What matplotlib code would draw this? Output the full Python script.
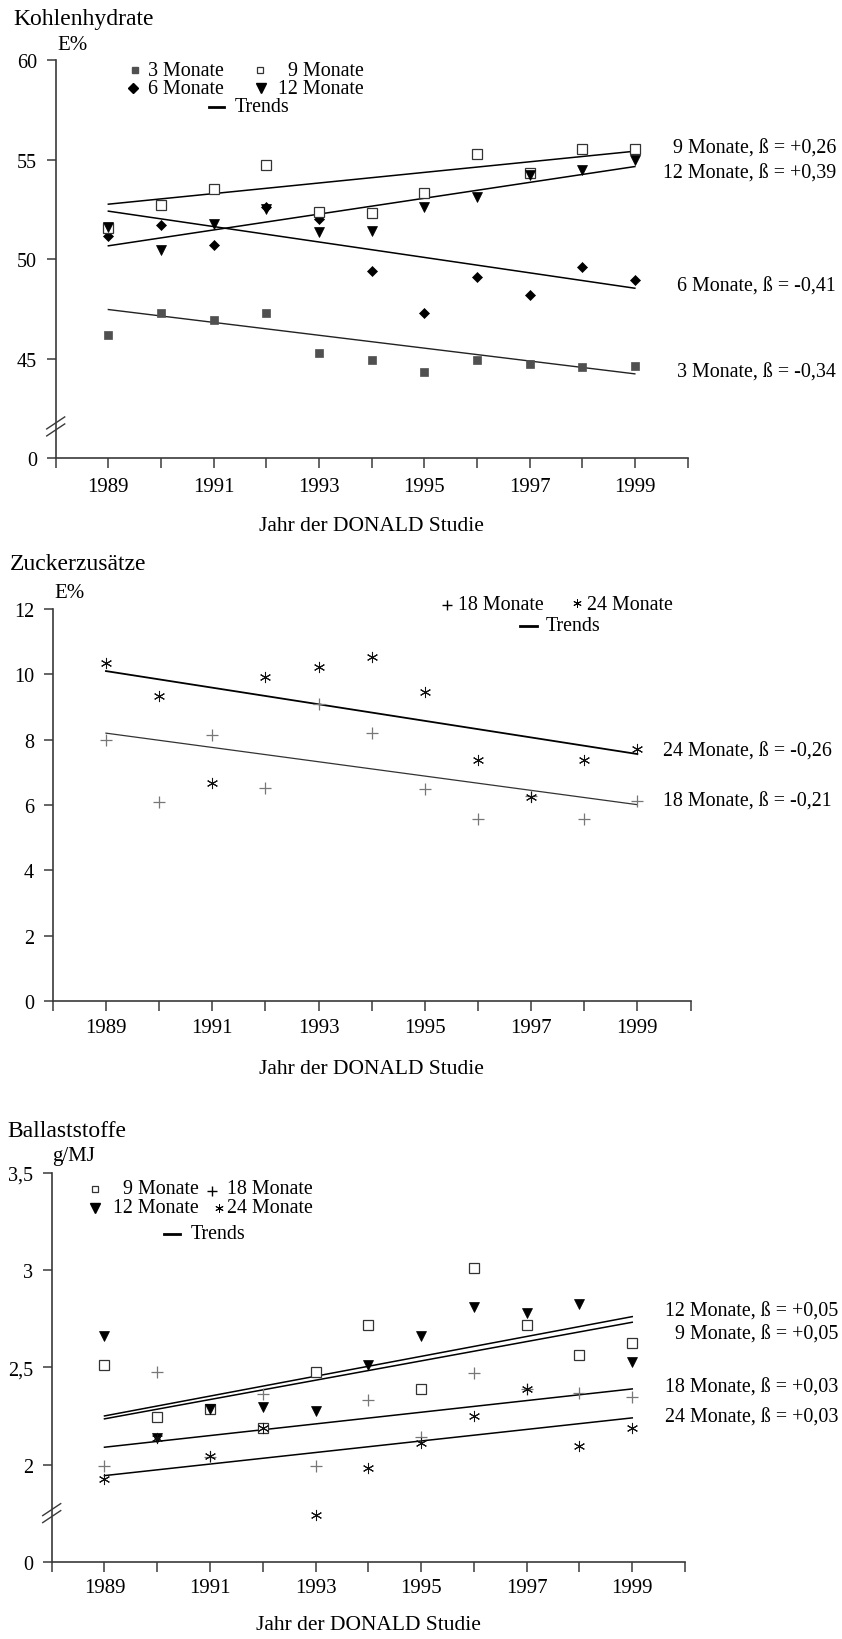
import matplotlib
matplotlib.use('Agg')
import matplotlib.pyplot as plt
from matplotlib.lines import Line2D
from matplotlib.transforms import IdentityTransform

plt.rcParams['font.family'] = ['Liberation Serif', 'DejaVu Serif']

# ---------------- data ----------------
years = [1989, 1990, 1991, 1992, 1993, 1994, 1995, 1996, 1997, 1998, 1999]
tick_years = list(range(1988, 2001))
xlabel_text = 'Jahr der DONALD Studie'

# Kohlenhydrate (E%)
carb_3m = [46.18, 47.32, 46.93, 47.32, 45.31, 44.92, 44.35, 44.92, 44.72, 44.58, 44.63]
carb_6m = [51.17, 51.71, 50.70, 52.60, 52.01, 49.40, 47.29, 49.11, 48.22, 49.63, 48.96]
carb_9m = [51.54, 52.70, 53.50, 54.74, 52.38, 52.31, 53.33, 55.29, 54.32, 55.53, 55.53]
carb_12m = [51.62, 50.47, 51.79, 52.51, 51.37, 51.42, 52.60, 53.10, 54.24, 54.48, 55.00]
carb_trend_3m = [47.47, 44.24]
carb_trend_6m = [52.41, 48.54]
carb_trend_9m = [52.76, 55.42]
carb_trend_12m = [50.67, 54.65]
carb_yticks = [40, 45, 50, 55, 60]
carb_yticklabels = ['0', '45', '50', '55', '60']
carb_labels = ['9 Monate, ß = +0,26', '12 Monate, ß = +0,39',
               '6 Monate, ß = -0,41', '3 Monate, ß = -0,34']

# Zuckerzusätze (E%)
sugar_18m = [7.98, 6.09, 8.13, 6.52, 9.10, 8.21, 6.50, 5.57, 6.28, 5.57, 6.11]
sugar_24m = [10.35, 9.35, 6.67, 9.93, 10.22, 10.52, 9.45, 7.39, 6.26, 7.37, 7.72]
sugar_trend_18m = [8.20, 6.01]
sugar_trend_24m = [10.10, 7.56]
sugar_yticks = [0, 2, 4, 6, 8, 10, 12]
sugar_yticklabels = ['0', '2', '4', '6', '8', '10', '12']
sugar_labels = ['24 Monate, ß = -0,26', '18 Monate, ß = -0,21']

# Ballaststoffe (g/MJ)
fibre_9m = [2.514, 2.246, 2.286, 2.188, 2.478, 2.72, 2.39, 3.01, 2.72, 2.564, 2.626]
fibre_12m = [2.66, 2.137, 2.286, 2.295, 2.274, 2.51, 2.66, 2.81, 2.78, 2.826, 2.526]
fibre_18m = [1.991, 2.475, 2.04, 2.363, 1.991, 2.33, 2.14, 2.47, 2.39, 2.368, 2.349]
fibre_24m = [1.926, 2.137, 2.046, 2.188, 1.74, 1.98, 2.11, 2.25, 2.39, 2.097, 2.19]
fibre_trend_9m = [2.235, 2.732]
fibre_trend_12m = [2.25, 2.761]
fibre_trend_18m = [2.089, 2.389]
fibre_trend_24m = [1.943, 2.24]
fibre_yticks = [1.5, 2.0, 2.5, 3.0, 3.5]
fibre_yticklabels = ['0', '2', '2,5', '3', '3,5']
fibre_labels = ['12 Monate, ß = +0,05', '9 Monate, ß = +0,05',
                '18 Monate, ß = +0,03', '24 Monate, ß = +0,03']

# ---------------- figure ----------------
W, H, DPI = 842, 1640, 100
fig = plt.figure(figsize=(W / DPI, H / DPI), dpi=DPI)
fig.patch.set_facecolor('white')

AX = '#3a3a3a'
TXT = 14.4


def fx(x):
    return x / W


def fy(y):
    return 1 - y / H


def make_axes(left, right, top, bottom):
    return fig.add_axes([fx(left), fy(bottom), fx(right) - fx(left), fy(top) - fy(bottom)])


def style(ax, ylim, yticks, yticklabels, xpad=4.5, labelpad=12):
    ax.set_xlim(1988, 2000)
    ax.set_ylim(*ylim)
    ax.patch.set_visible(False)
    for s in ['top', 'right']:
        ax.spines[s].set_visible(False)
    for s in ['left', 'bottom']:
        ax.spines[s].set_color(AX)
        ax.spines[s].set_linewidth(1.2)
    ax.set_xticks(tick_years)
    ax.set_xticklabels([str(y) if y % 2 == 1 else '' for y in tick_years], fontsize=15)
    ax.set_yticks(yticks)
    ax.set_yticklabels(yticklabels, fontsize=14.5)
    ax.tick_params(axis='x', direction='out', length=7, width=1.1, color=AX, pad=xpad)
    ax.tick_params(axis='y', direction='out', length=6.5, width=1.1, color=AX, pad=7)
    ax.set_xlabel(xlabel_text, fontsize=15.5, labelpad=labelpad)


def break_mark(ax, val):
    x0, y0 = ax.transData.transform((1988, val))
    for dy in (-3.5, 3.5):
        fig.add_artist(Line2D([x0 - 9, x0 + 9], [y0 - 6 + dy, y0 + 6 + dy],
                              transform=IdentityTransform(), color=AX, lw=1.0))


STY = {
    '3': dict(marker='s', ms=5.2, mfc='#505050', mec='#505050', mew=0.5),
    '6': dict(marker='D', ms=5.2, mfc='black', mec='black', mew=0.5),
    '9': dict(marker='s', ms=6.8, mfc='white', mec='#333333', mew=0.9),
    '12': dict(marker='v', ms=7.2, mfc='black', mec='black', mew=0.5),
    '18': dict(marker='+', ms=9, mec='#777777', mew=0.9),
    '24': dict(marker=(6, 2, 0), ms=8, mec='#111111', mew=0.75),
}
LEG = {
    '3': dict(marker='s', ms=4.5, mfc='#505050', mec='#505050'),
    '6': dict(marker='D', ms=4.8, mfc='black', mec='black'),
    '9': dict(marker='s', ms=5, mfc='white', mec='#333333', mew=0.9),
    '12': dict(marker='v', ms=6.5, mfc='black', mec='black'),
    '18': dict(marker='+', ms=7, mec='black', mew=1.0),
    '24': dict(marker=(6, 2, 0), ms=6, mec='black', mew=0.7),
}


def points(ax, ys, key):
    ax.plot(years, ys, linestyle='none', zorder=3, clip_on=False, **STY[key])


def trend(ax, ends, lw=1.1, color='black'):
    ax.plot([years[0], years[-1]], ends, color=color, lw=lw, zorder=2)


def leg_marker(xp, yp, key):
    fig.add_artist(Line2D([fx(xp)], [fy(yp)], transform=fig.transFigure,
                          linestyle='none', **LEG[key]))


def leg_line(x1, x2, yp):
    fig.add_artist(Line2D([fx(x1), fx(x2)], [fy(yp), fy(yp)], transform=fig.transFigure,
                          color='black', lw=2.0))


def ftext(xp, yp, s, size=TXT, ha='left'):
    fig.text(fx(xp), fy(yp), s, fontsize=size, ha=ha, va='center')


# ---------------- Panel 1: Kohlenhydrate ----------------
ax1 = make_axes(55.7, 687.5, 61, 459.3)
style(ax1, (40, 60), carb_yticks, carb_yticklabels, xpad=6.7, labelpad=14.5)
points(ax1, carb_3m, '3')
points(ax1, carb_6m, '6')
points(ax1, carb_9m, '9')
points(ax1, carb_12m, '12')
trend(ax1, carb_trend_3m, lw=1.0, color='#222222')
trend(ax1, carb_trend_6m)
trend(ax1, carb_trend_9m)
trend(ax1, carb_trend_12m)
break_mark(ax1, 41.6)

ftext(13, 19, 'Kohlenhydrate', size=17)
ftext(57, 46, 'E%', size=15)
leg_marker(135, 71, '3'); ftext(148, 71, '3 Monate')
leg_marker(133, 89, '6'); ftext(148, 89, '6 Monate')
leg_marker(260, 71, '9'); ftext(278, 71, '  9 Monate')
leg_marker(261, 89, '12'); ftext(278, 89, '12 Monate')
leg_line(209, 224, 108); ftext(235, 108, 'Trends')
for lab, yp in zip(carb_labels, [149, 174, 287, 373]):
    ftext(836, yp, lab, ha='right')

# ---------------- Panel 2: Zuckerzusätze ----------------
ax2 = make_axes(52.8, 690.5, 610, 1002)
style(ax2, (0, 12), sugar_yticks, sugar_yticklabels, xpad=5, labelpad=16.3)
points(ax2, sugar_18m, '18')
points(ax2, sugar_24m, '24')
trend(ax2, sugar_trend_18m, lw=0.9, color='#333333')
trend(ax2, sugar_trend_24m, lw=1.3)

ftext(10, 565, 'Zuckerzusätze', size=17)
ftext(54, 594, 'E%', size=15)
leg_marker(446.7, 606, '18'); ftext(458, 605, '18 Monate')
leg_marker(577, 604, '24'); ftext(587, 605, '24 Monate')
leg_line(520, 537, 626.7); ftext(545.7, 626.7, 'Trends')
for lab, yp in zip(sugar_labels, [751.7, 801.7]):
    ftext(832, yp, lab, ha='right')

# ---------------- Panel 3: Ballaststoffe ----------------
ax3 = make_axes(51.7, 685, 1174, 1562.7)
style(ax3, (1.5, 3.5), fibre_yticks, fibre_yticklabels, xpad=5, labelpad=12.5)
points(ax3, fibre_9m, '9')
points(ax3, fibre_12m, '12')
points(ax3, fibre_18m, '18')
points(ax3, fibre_24m, '24')
trend(ax3, fibre_trend_9m)
trend(ax3, fibre_trend_12m)
trend(ax3, fibre_trend_18m)
trend(ax3, fibre_trend_24m)
break_mark(ax3, 1.75)

ftext(7, 1131.7, 'Ballaststoffe', size=17)
ftext(52, 1156.7, 'g/MJ', size=15)
leg_marker(95, 1190, '9'); ftext(113, 1190, '  9 Monate')
leg_marker(212.3, 1192, '18'); ftext(226.7, 1190, '18 Monate')
leg_marker(95, 1209, '12'); ftext(113, 1209, '12 Monate')
leg_marker(219, 1209, '24'); ftext(226.7, 1209, '24 Monate')
leg_line(164, 180, 1235); ftext(190.7, 1235, 'Trends')
for lab, yp in zip(fibre_labels, [1311.7, 1335, 1388.3, 1418.3]):
    ftext(838, yp, lab, ha='right')

fig.savefig('out.png', dpi=DPI, facecolor='white')
